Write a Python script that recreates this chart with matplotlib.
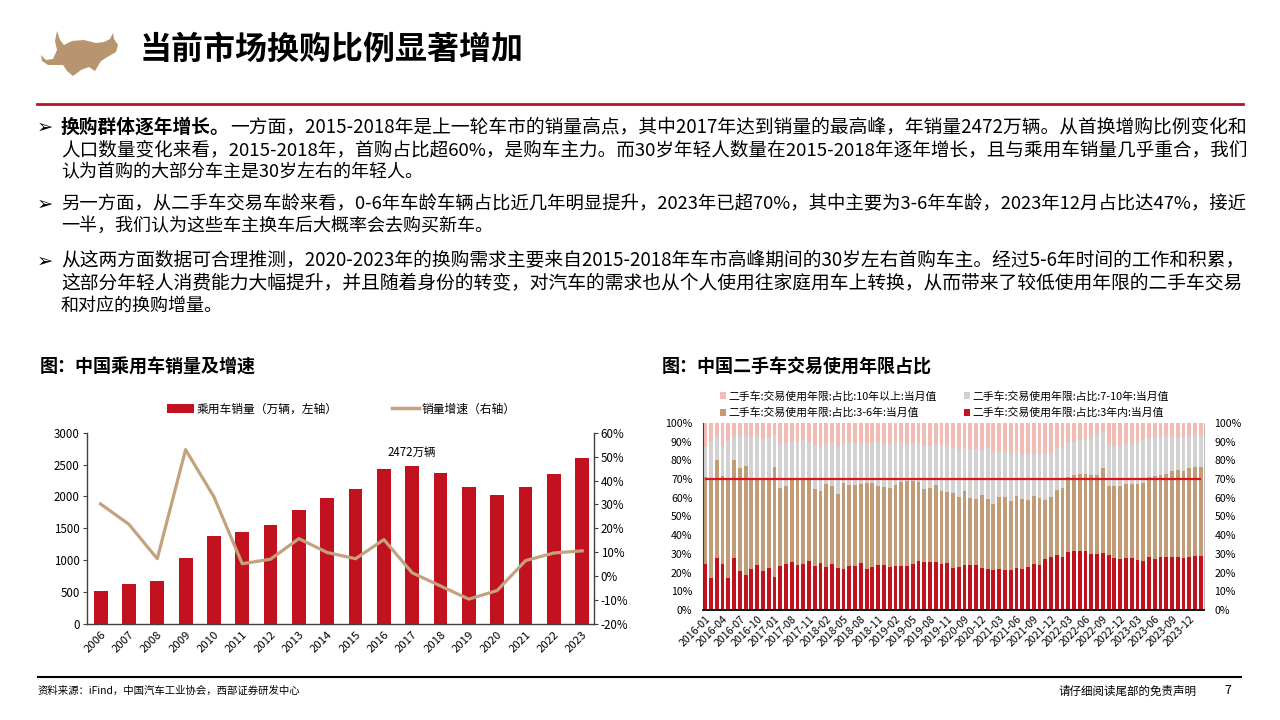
import numpy as np
import matplotlib
matplotlib.use('Agg')
import matplotlib.pyplot as plt
from matplotlib.patches import Patch, Polygon
from matplotlib.lines import Line2D
from matplotlib.ticker import FuncFormatter

plt.rcParams['font.family'] = ['Noto Sans CJK SC', 'DejaVu Sans']
plt.rcParams['axes.unicode_minus'] = False

# ---------------- data: left chart ----------------
years = ['2006', '2007', '2008', '2009', '2010', '2011', '2012', '2013', '2014',
         '2015', '2016', '2017', '2018', '2019', '2020', '2021', '2022', '2023']
sales = [518, 630, 676, 1033, 1376, 1447, 1550, 1793, 1970,
         2115, 2438, 2472, 2371, 2144, 2018, 2148, 2356, 2606]
growth = [30.2, 21.7, 7.3, 52.9, 33.2, 5.2, 7.1, 15.7, 9.9,
          7.3, 15.3, 1.4, -4.1, -9.6, -6.0, 6.5, 9.7, 10.6]

# ---------------- data: right chart ----------------
month_groups = [(2016, range(1, 13)), (2017, [1, 6, 7, 8, 9, 10, 11, 12]),
                (2018, range(1, 13)), (2019, range(1, 13)), (2020, range(8, 13)),
                (2021, range(1, 13)), (2022, range(1, 13)), (2023, range(1, 13)),
                (2024, [1, 2])]
months = [f"{y}-{m:02d}" for y, ms in month_groups for m in ms]

share_3y = [24.6, 16.9, 27.6, 24.6, 16.9, 27.6, 21.0, 18.7, 21.7, 24.1, 21.0, 22.3,
            17.8, 23.7, 24.6, 25.8, 24.1, 24.6, 26.4, 23.5, 25.1, 23.0, 24.6, 22.6,
            21.9, 23.5, 23.5, 25.3, 22.1, 23.2, 23.9, 23.9, 23.2, 23.6, 23.6, 23.5,
            24.8, 26.4, 25.8, 25.5, 25.7, 24.6, 25.0, 22.5, 23.2, 23.9, 23.9, 23.9,
            22.5, 21.9, 21.6, 21.8, 21.4, 21.2, 22.5, 21.7, 22.8, 24.8, 24.1, 27.1,
            28.2, 29.6, 28.2, 30.8, 31.4, 31.6, 31.6, 29.9, 29.9, 30.6, 29.4, 28.0,
            27.3, 27.6, 27.6, 26.6, 26.4, 28.2, 27.3, 28.3, 28.2, 28.5, 28.3, 27.8,
            28.3, 28.7, 29.1]
share_3_6y = [46.7, 52.6, 52.6, 46.9, 52.6, 52.6, 55.2, 58.5, 47.8, 45.7, 49.8, 47.2,
              58.7, 41.8, 41.6, 44.0, 45.4, 44.9, 43.6, 41.2, 38.5, 44.6, 41.7, 39.3,
              46.0, 43.3, 43.3, 42.3, 45.8, 44.7, 42.2, 42.1, 42.2, 43.4, 45.0, 45.7,
              44.4, 41.9, 38.9, 39.6, 41.1, 39.0, 38.3, 40.1, 37.4, 39.7, 35.8, 35.5,
              39.0, 37.5, 34.9, 38.6, 38.8, 37.1, 38.6, 37.7, 35.8, 36.2, 36.0, 31.7,
              32.4, 34.6, 37.2, 40.3, 40.6, 40.9, 41.3, 42.3, 42.3, 45.2, 37.1, 38.3,
              39.0, 39.6, 39.8, 40.8, 41.3, 42.7, 44.4, 43.9, 44.3, 45.8, 46.6, 46.7,
              47.5, 47.9, 47.5]
share_7_10y = [16.1, 20.9, 12.8, 15.9, 20.9, 12.7, 17.3, 15.8, 23.0, 23.6, 20.5, 22.3,
               16.9, 23.8, 23.0, 19.9, 20.5, 21.4, 20.0, 23.5, 23.7, 21.2, 22.8, 25.8,
               21.6, 22.9, 22.7, 21.9, 21.6, 21.6, 23.6, 23.3, 23.5, 22.6, 20.5, 19.6,
               19.9, 20.8, 23.0, 22.6, 21.8, 24.5, 24.8, 24.4, 25.0, 23.2, 26.4, 26.7,
               24.1, 27.1, 27.3, 24.3, 24.8, 25.1, 23.9, 23.8, 24.6, 22.2, 23.3, 24.6,
               23.5, 22.3, 21.4, 18.9, 17.7, 18.2, 18.5, 19.6, 22.1, 19.5, 22.1, 21.4,
               21.6, 21.4, 21.2, 22.6, 23.0, 20.9, 20.5, 20.5, 20.5, 18.4, 17.4, 18.2,
               17.4, 17.0, 17.0]
share_10y = [12.6, 9.6, 7.0, 12.6, 9.6, 7.1, 6.5, 7.0, 7.5, 6.6, 8.7, 8.2,
             6.6, 10.7, 10.8, 10.3, 10.0, 9.1, 10.0, 11.8, 12.7, 11.2, 10.9, 12.3,
             10.5, 10.3, 10.5, 10.5, 10.5, 10.5, 10.3, 10.7, 11.1, 10.4, 10.9, 11.2,
             10.9, 10.9, 12.3, 12.3, 11.4, 11.9, 11.9, 13.0, 14.4, 13.2, 13.9, 13.9,
             14.4, 13.5, 16.2, 15.3, 15.0, 16.6, 15.0, 16.8, 16.8, 16.8, 16.6, 16.6,
             15.9, 13.5, 13.2, 10.0, 10.3, 9.3, 8.6, 8.2, 5.7, 4.7, 11.4, 12.3,
             12.1, 11.4, 11.4, 10.0, 9.3, 8.2, 7.8, 7.3, 7.0, 7.3, 7.7, 7.3,
             6.8, 6.4, 6.4]
ref_level = 70

legend_labels = ['二手车:交易使用年限:占比:10年以上:当月值',
                 '二手车:交易使用年限:占比:3-6年:当月值',
                 '二手车:交易使用年限:占比:7-10年:当月值',
                 '二手车:交易使用年限:占比:3年内:当月值']

# ---------------- colors ----------------
RED = '#C3121F'
TAN = '#C19C76'
GRAY = '#D2D2D2'
PINK = '#F2BBB3'
LINE_TAN = '#C4A27E'

W, H = 1280, 720
fig = plt.figure(figsize=(12.8, 7.2), dpi=100)
renderer = fig.canvas.get_renderer()


def fx(x):
    return x / W


def fy(y):
    return 1 - y / H


def rect(l, t, r, b):
    return [fx(l), fy(b), (r - l) / W, (b - t) / H]


# ---------------- header ----------------
bull = [(41, 55), (46, 60), (53, 59), (57, 50), (55, 41), (57, 31), (60, 40), (64, 45),
        (72, 41), (84, 40), (96, 43), (104, 42), (110, 39), (113, 33), (114, 39),
        (118, 45), (116, 52), (109, 56), (101, 61), (95, 71), (89, 67), (81, 70),
        (73, 76), (67, 71), (63, 65), (56, 65), (48, 65), (42, 61)]
fig.add_artist(Polygon([(fx(x), fy(y)) for x, y in bull], closed=True,
                       transform=fig.transFigure, facecolor='#B8956F', edgecolor='none'))
fig.text(fx(140), fy(50), '当前市场换购比例显著增加', fontsize=23, fontweight='bold',
         va='center', ha='left', color='black')
fig.add_artist(Line2D([fx(37), fx(1243)], [fy(104), fy(104)], color='#C0101C', lw=2.0,
                      transform=fig.transFigure))

# ---------------- body text ----------------
BODY_FS = 13.0
X0, X1 = 61, 1242


def bullet(y):
    fig.text(fx(37), fy(y), '➢', fontsize=14, va='center', ha='left',
             family=['DejaVu Sans'], fontweight='bold')


def line(y, text, bold_prefix=None, justify=True):
    fs = BODY_FS
    if justify:
        parts = []
        if bold_prefix:
            parts.append(fig.text(0, 0, bold_prefix, fontsize=fs, fontweight='bold'))
        parts.append(fig.text(0, 0, text, fontsize=fs))
        wsum = sum(p.get_window_extent(renderer=renderer).width for p in parts)
        for p in parts:
            p.remove()
        fs = fs * (X1 - X0) / wsum
    xx = X0
    if bold_prefix:
        t = fig.text(fx(xx), fy(y), bold_prefix, fontsize=fs, fontweight='bold',
                     va='center', ha='left')
        xx += t.get_window_extent(renderer=renderer).width
    fig.text(fx(xx), fy(y), text, fontsize=fs, va='center', ha='left')


bullet(127)
line(127, '一方面，2015-2018年是上一轮车市的销量高点，其中2017年达到销量的最高峰，年销量2472万辆。从首换增购比例变化和',
     bold_prefix='换购群体逐年增长。')
line(150, '人口数量变化来看，2015-2018年，首购占比超60%，是购车主力。而30岁年轻人数量在2015-2018年逐年增长，且与乘用车销量几乎重合，我们')
line(172, '认为首购的大部分车主是30岁左右的年轻人。', justify=False)
bullet(204)
line(204, '另一方面，从二手车交易车龄来看，0-6年车龄车辆占比近几年明显提升，2023年已超70%，其中主要为3-6年车龄，2023年12月占比达47%，接近')
line(226, '一半，我们认为这些车主换车后大概率会去购买新车。', justify=False)
bullet(261)
line(261, '从这两方面数据可合理推测，2020-2023年的换购需求主要来自2015-2018年车市高峰期间的30岁左右首购车主。经过5-6年时间的工作和积累，')
line(284, '这部分年轻人消费能力大幅提升，并且随着身份的转变，对汽车的需求也从个人使用往家庭用车上转换，从而带来了较低使用年限的二手车交易')
line(306, '和对应的换购增量。', justify=False)

# ---------------- chart titles ----------------
fig.text(fx(40), fy(367), '图：中国乘用车销量及增速', fontsize=13, fontweight='bold',
         va='center', ha='left')
fig.text(fx(662), fy(367), '图：中国二手车交易使用年限占比', fontsize=13, fontweight='bold',
         va='center', ha='left')

# ---------------- left chart ----------------
ax1 = fig.add_axes(rect(86.7, 432.7, 593.8, 624))
x = np.arange(len(years))
ax1.bar(x, sales, width=0.49, color=RED, zorder=2)
ax1.set_ylim(0, 3000)
ax1.set_yticks(np.arange(0, 3001, 500))
ax1.set_xlim(-0.49, len(years) - 0.59)
ax1.set_xticks(x)
ax1.set_xticklabels(years, rotation=45, ha='right', rotation_mode='anchor', fontsize=8.2)
ax1.tick_params(axis='x', length=0, pad=4)
ax1.tick_params(axis='y', length=3, width=0.8, labelsize=8.3, pad=2, color='#404040')
for s in ['top', 'right']:
    ax1.spines[s].set_visible(False)
for s in ['left', 'bottom']:
    ax1.spines[s].set_color('#404040')
    ax1.spines[s].set_linewidth(1.0)
i2017 = years.index('2017')
ax1.annotate(f'{sales[i2017]}万辆', xy=(i2017, sales[i2017]), xytext=(0, 10),
             textcoords='offset points', ha='center', va='center', fontsize=8.3)

ax2 = ax1.twinx()
ax2.plot(x, growth, color=LINE_TAN, lw=2.3, zorder=3)
ax2.set_ylim(-20, 60)
ax2.set_yticks(np.arange(-20, 61, 10))
ax2.yaxis.set_major_formatter(FuncFormatter(lambda v, p: f'{v:.0f}%'))
ax2.tick_params(axis='y', length=3, width=0.8, labelsize=8.3, pad=2, color='#404040')
for s in ['top', 'left', 'bottom']:
    ax2.spines[s].set_visible(False)
ax2.spines['right'].set_color('#404040')
ax2.spines['right'].set_linewidth(1.0)

fig.legend([Patch(facecolor=RED), Line2D([0], [0], color=LINE_TAN, lw=2.5)],
           ['乘用车销量（万辆，左轴）', '销量增速（右轴）'],
           loc='center', bbox_to_anchor=(fx(341), fy(409)), ncol=2, frameon=False,
           fontsize=8.5, handlelength=2.3, handleheight=0.8, handletextpad=0.2,
           columnspacing=4.6)

# ---------------- right chart ----------------
ax3 = fig.add_axes(rect(702.7, 423, 1204, 610))
idx = np.arange(len(months))
b1 = np.array(share_3y)
b2 = b1 + np.array(share_3_6y)
b3 = b2 + np.array(share_7_10y)
bw = 0.66
ax3.bar(idx, share_3y, width=bw, color=RED, zorder=2)
ax3.bar(idx, share_3_6y, bottom=b1, width=bw, color=TAN, zorder=2)
ax3.bar(idx, share_7_10y, bottom=b2, width=bw, color=GRAY, zorder=2)
ax3.bar(idx, share_10y, bottom=b3, width=bw, color=PINK, zorder=2)
ax3.hlines(ref_level, idx[0], idx[-1], color='#E0141C', lw=1.6, zorder=3)
ax3.set_ylim(0, 100)
ax3.set_xlim(-0.45, len(months) - 0.45)
ax3.set_yticks(np.arange(0, 101, 10))
ax3.yaxis.set_major_formatter(FuncFormatter(lambda v, p: f'{v:.0f}%'))
ax3.tick_params(axis='y', which='both', left=False, right=False, labelleft=True,
                labelright=True, labelsize=7.6, pad=4)
ax3.set_xticks(idx[::3])
ax3.set_xticklabels(months[::3], rotation=45, ha='right', rotation_mode='anchor',
                    fontsize=7.6)
ax3.set_xticks(idx, minor=True)
ax3.tick_params(axis='x', which='major', direction='in', length=3, width=1.5,
                color='#8A8A8A', pad=3)
ax3.tick_params(axis='x', which='minor', direction='in', length=3, width=1.5,
                color='#8A8A8A')
ax3.spines['top'].set_visible(False)
ax3.spines['left'].set_color('#404040')
ax3.spines['bottom'].set_color('black')
ax3.spines['bottom'].set_linewidth(1.3)
ax3.spines['right'].set_color('#BBBBBB')

fig.legend([Patch(facecolor=PINK), Patch(facecolor=TAN), Patch(facecolor=GRAY),
            Patch(facecolor=RED)], legend_labels,
           loc='upper left', bbox_to_anchor=(fx(710), fy(381)), ncol=2, frameon=False,
           fontsize=7.8, handlelength=0.6, handleheight=0.6, handletextpad=0.2,
           columnspacing=2.5, labelspacing=0.56)

# ---------------- footer ----------------
fig.add_artist(Line2D([fx(38), fx(1241)], [fy(677), fy(677)], color='black', lw=1.5,
                      transform=fig.transFigure))
fig.text(fx(38), fy(691), '资料来源：iFind，中国汽车工业协会，西部证券研发中心', fontsize=7.5,
         va='center', ha='left')
fig.text(fx(1196), fy(691), '请仔细阅读尾部的免责声明', fontsize=8.3, va='center', ha='right')
fig.text(fx(1228), fy(691), '7', fontsize=9, va='center', ha='center')

fig.savefig('out.png', dpi=100)
